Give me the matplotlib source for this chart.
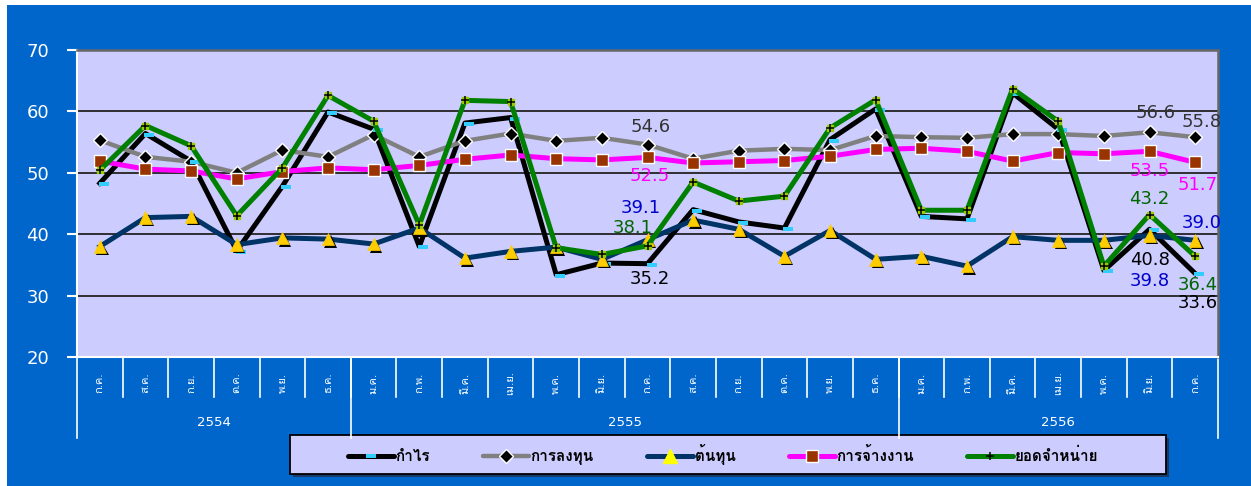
import matplotlib
matplotlib.use("Agg")
import matplotlib.pyplot as plt
import matplotlib.patheffects as pe
from matplotlib.patches import Rectangle
from matplotlib.lines import Line2D
import matplotlib.transforms as mtransforms
import numpy as np

# ---------------- data ----------------
months = ["ก.ค.", "ส.ค.", "ก.ย.", "ต.ค.", "พ.ย.", "ธ.ค.",
          "ม.ค.", "ก.พ.", "มี.ค.", "เม.ย.", "พ.ค.", "มิ.ย.",
          "ก.ค.", "ส.ค.", "ก.ย.", "ต.ค.", "พ.ย.", "ธ.ค.",
          "ม.ค.", "ก.พ.", "มี.ค.", "เม.ย.", "พ.ค.", "มิ.ย.", "ก.ค."]
years = ["2554", "2555", "2556"]
year_counts = [6, 12, 7]

profit = [48.3, 56.4, 51.9, 37.3, 47.8, 59.9, 57.1, 38.0, 58.1, 59.0,
          33.4, 35.3, 35.2, 44.0, 42.0, 41.0, 55.4, 60.4, 42.9, 42.5,
          63.0, 57.1, 34.1, 40.8, 33.6]
investment = [55.3, 52.6, 51.8, 50.0, 53.7, 52.6, 56.2, 52.6, 55.2, 56.4,
              55.2, 55.7, 54.6, 52.3, 53.6, 53.9, 53.7, 56.0, 55.8, 55.7,
              56.3, 56.3, 56.0, 56.6, 55.8]
cost = [38.0, 42.7, 42.9, 38.3, 39.4, 39.2, 38.4, 41.0, 36.1, 37.2,
        37.9, 35.9, 39.1, 42.3, 40.8, 36.4, 40.6, 35.9, 36.4, 34.8,
        39.6, 39.0, 39.0, 39.8, 39.0]
employment = [51.9, 50.6, 50.3, 49.0, 50.2, 50.8, 50.5, 51.2, 52.2, 52.9,
              52.3, 52.1, 52.5, 51.6, 51.8, 52.0, 52.7, 53.8, 54.0, 53.5,
              51.9, 53.3, 53.1, 53.5, 51.7]
sales = [50.4, 57.7, 54.4, 43.0, 50.8, 62.6, 58.4, 41.5, 61.8, 61.6,
         37.8, 36.7, 38.1, 48.5, 45.4, 46.2, 57.3, 61.9, 43.9, 43.9,
         63.7, 58.4, 34.8, 43.2, 36.4]

series_names = ["กำไร", "การลงทุน", "ต้นทุน", "การจ้างงาน", "ยอดจำหน่าย"]

# labelled points: (series, index, offset in points, colour)
labels_spec = [
    ("investment", 12, (2, 13), "#333333"),
    ("employment", 12, (1.5, -13), "#FF00FF"),
    ("cost", 12, (-5, 23), "#0000CC"),
    ("sales", 12, (-11, 13), "#006600"),
    ("profit", 12, (1.5, -11), "#000000"),
    ("investment", 23, (4.5, 14), "#333333"),
    ("investment", 24, (4.5, 11), "#333333"),
    ("employment", 23, (0, -14.5), "#FF00FF"),
    ("employment", 24, (2, -16), "#FF00FF"),
    ("sales", 23, (0, 11.5), "#006600"),
    ("cost", 24, (4.5, 12.5), "#0000CC"),
    ("profit", 23, (0, -22), "#000000"),
    ("cost", 23, (0, -33), "#0000CC"),
    ("sales", 24, (2, -21), "#006600"),
    ("profit", 24, (2, -21.5), "#000000"),
]

THAI = ["Loma", "DejaVu Sans"]
W, H = 1251, 486
fig = plt.figure(figsize=(W / 100, H / 100), dpi=100, facecolor="white")
bg = Rectangle((7 / W, 0), 1 - 7 / W, (H - 5) / H, transform=fig.transFigure,
               facecolor="#0066CC", edgecolor="none", zorder=-10)
fig.patches.append(bg)

# legend frame with shadow
lx0, ly0, lw_, lh_ = 290 / W, (H - 474) / H, 876 / W, 39 / H
fig.patches.append(Rectangle((lx0 + 3 / W, ly0 - 3 / H), lw_, lh_, transform=fig.transFigure,
                             facecolor="#1A3A6A", edgecolor="none", zorder=-5))
fig.patches.append(Rectangle((lx0, ly0), lw_, lh_, transform=fig.transFigure,
                             facecolor="#CCCCFF", edgecolor="black", lw=1.3, zorder=-4))

ax = fig.add_axes([77 / W, (H - 357) / H, (1218 - 77) / W, (357 - 50) / H])
ax.set_facecolor("#CCCCFF")
n = len(months)
x = np.arange(n) + 0.5
ax.set_xlim(0, n)
ax.set_ylim(20, 70)

for s in ["top", "right"]:
    ax.spines[s].set_color("#666666")
    ax.spines[s].set_linewidth(1.8)
ax.spines["left"].set_color("white")
ax.spines["bottom"].set_color("white")
ax.spines["left"].set_linewidth(1.5)
ax.spines["bottom"].set_linewidth(1.5)

for yv in [30, 40, 50, 60]:
    ax.axhline(yv, color="#222222", lw=1.3, zorder=1)

ax.set_yticks([20, 30, 40, 50, 60, 70])
ax.tick_params(axis="y", colors="white", length=7, width=1.5, pad=13, labelsize=13)
ax.set_xticks([])

lw = 3.6
d = dict(profit=profit, investment=investment, cost=cost, employment=employment, sales=sales)
shift = ax.transData + mtransforms.ScaledTranslation(4 / 100, -1 / 100, fig.dpi_scale_trans)

rect = [(-1, -0.45), (1, -0.45), (1, 0.45), (-1, 0.45), (-1, -0.45)]
# กำไร
ax.plot(x, profit, color="black", lw=lw, zorder=3, solid_joinstyle="round")
ax.plot(x, profit, ls="none", marker=rect, ms=7, mfc="#33CCFF", mec="#33CCFF", mew=0,
        zorder=3.01, transform=shift)
h1 = Line2D([], [], color="black", lw=lw, marker=rect, ms=7, mfc="#33CCFF", mec="#33CCFF",
            mew=0, solid_capstyle="round")
# การลงทุน
ax.plot(x, investment, color="#808080", lw=3.2, marker="D", ms=7,
        mfc="black", mec="white", mew=1, zorder=3, solid_joinstyle="round")
h2 = Line2D([], [], color="#808080", lw=3.2, marker="D", ms=7, mfc="black", mec="white",
            mew=1, solid_capstyle="round")
# ต้นทุน
ax.plot(x, cost, color="#003366", lw=lw, zorder=3, solid_joinstyle="round")
ax.plot(x, cost, ls="none", marker="^", ms=9, mfc="#FFCC00", mec="#FFCC00", mew=0.5,
        zorder=3.05,
        path_effects=[pe.SimplePatchShadow(offset=(1.8, -1.8), shadow_rgbFace="black", alpha=1.0),
                      pe.Normal()])
h3 = Line2D([], [], color="#003366", lw=lw, marker="^", ms=10, mfc="#FFFF00", mec="#FFFF00",
            solid_capstyle="round")
# การจ้างงาน
ax.plot(x, employment, color="#FF00FF", lw=lw, marker="s", ms=8,
        mfc="#993300", mec="white", mew=1, zorder=3.1, solid_joinstyle="round")
h4 = Line2D([], [], color="#FF00FF", lw=lw, marker="s", ms=8, mfc="#993300", mec="white",
            mew=1, solid_capstyle="round")
# ยอดจำหน่าย
ax.plot(x, sales, color="#008000", lw=lw, zorder=3.2, solid_joinstyle="round")
ax.plot(x, sales, ls="none", marker="s", ms=4.5, mfc="#99CC00", mec="#99CC00", zorder=3.25)
ax.plot(x, sales, ls="none", marker="+", ms=6, mec="black", mew=1.1, zorder=3.3)
h5 = Line2D([], [], color="#008000", lw=lw, marker="+", ms=6, mec="black", mew=1.1,
            solid_capstyle="round")

for key, idx, (dx, dy), col in labels_spec:
    val = d[key][idx]
    ax.annotate(f"{val:.1f}", (x[idx], val), xytext=(dx, dy), textcoords="offset points",
                ha="center", va="center", fontsize=13, color=col, zorder=5,
                family="DejaVu Sans")

# category axis
blend = mtransforms.blended_transform_factory(ax.transData, ax.transAxes)
for i in range(1, n):
    ax.plot([i, i], [0, -40 / 307], color="white", lw=1.2, transform=blend, clip_on=False)
for i, m in enumerate(months):
    ax.text(i + 0.5, -26 / 307, m, rotation=90, ha="center", va="center",
            fontsize=8, color="white", transform=blend, family=THAI)
pos = 0
bounds = [0]
for c in year_counts:
    pos += c
    bounds.append(pos)
for b in bounds:
    ax.plot([b, b], [0, -81 / 307], color="white", lw=1.2, transform=blend, clip_on=False)
for k, yr in enumerate(years):
    cx = (bounds[k] + bounds[k + 1]) / 2
    ax.text(cx, -66 / 307, yr, ha="center", va="center", fontsize=9.5,
            color="white", transform=blend, family="DejaVu Sans")

leg = fig.legend(handles=[h1, h2, h3, h4, h5], labels=series_names,
                 loc="center", bbox_to_anchor=(lx0 + lw_ / 2 - 5 / W, ly0 + lh_ / 2),
                 ncol=5, numpoints=1, handlelength=3.0,
                 handletextpad=0.1, columnspacing=3.5, borderaxespad=0,
                 frameon=False,
                 prop={"family": THAI, "weight": "bold", "size": 11})

fig.savefig("out.png", dpi=100, facecolor="white")
